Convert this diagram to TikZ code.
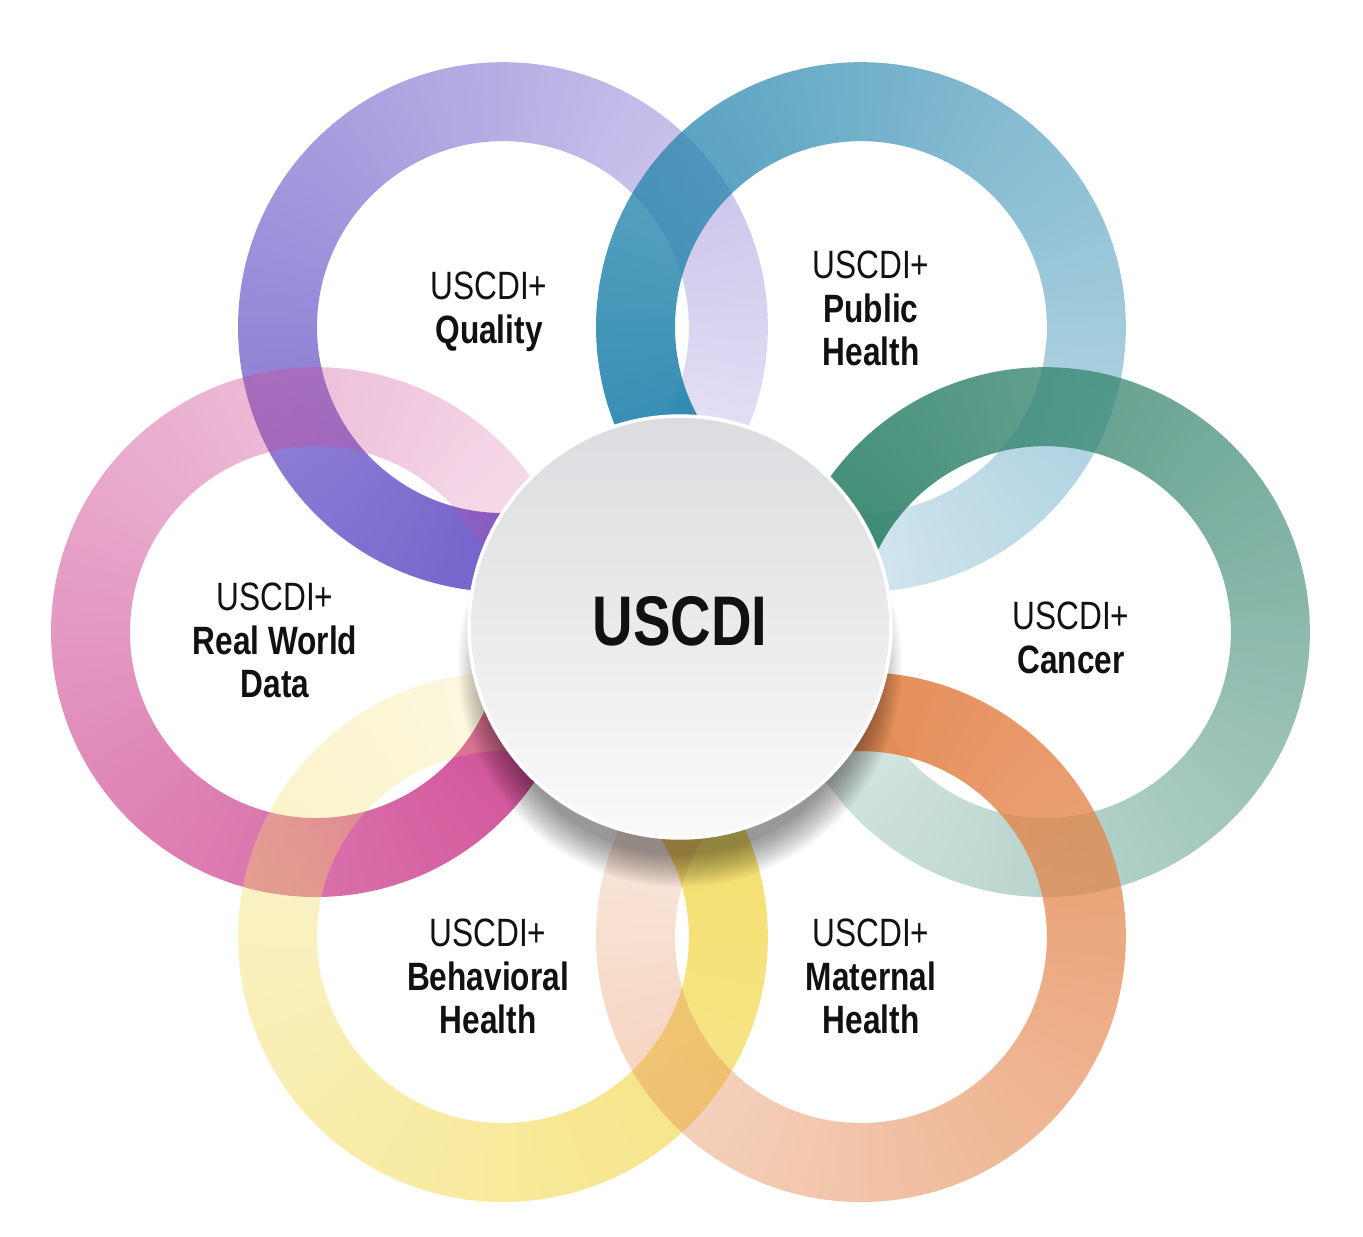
\documentclass[tikz,border=0pt]{standalone}
\usepackage{fontspec}
\setmainfont{Liberation Sans}[FakeStretch=0.8]
\usetikzlibrary{fadings}
% conic opacity fading: opaque just clockwise of the seam angle, nearly clear just before it
\newcommand{\ringfading}[4]{%
  \pgfdeclarefunctionalshading{#1shade}{\pgfpoint{-50bp}{-50bp}}{\pgfpoint{50bp}{50bp}}{}{
    exch 0.0001 add atan neg #2 add 360 div 1 add dup floor sub
    #4 #3 sub mul #3 add dup dup
  }%
  \pgfdeclarefading{#1}{\pgfuseshading{#1shade}}}
\ringfading{qualityfade}{300.5}{1}{0.10}
\ringfading{publicfade}{239}{1}{0.13}
\ringfading{cancerfade}{180}{1}{0.13}
\ringfading{maternalfade}{120}{1}{0.11}
\ringfading{behavioralfade}{60}{1}{0.11}
\ringfading{realworldfade}{0}{1}{0.12}
\definecolor{qualitycol}{HTML}{6A55C8}
\definecolor{publiccol}{HTML}{2585AD}
\definecolor{cancercol}{HTML}{35856F}
\definecolor{maternalcol}{HTML}{E4844A}
\definecolor{behavioralcol}{HTML}{F4DD62}
\definecolor{realworldcol}{HTML}{CF4893}
\definecolor{hubtop}{HTML}{DBDCDF}
\definecolor{hubbottom}{HTML}{FAFAFA}
\definecolor{labelink}{HTML}{111111}
\tikzset{
  ring/.style={even odd rule, fill=#1col, path fading=#1fade, fit fading=true},
  lbl/.style={anchor=north, align=center, inner sep=0pt, text=labelink,
              font=\fontsize{22.5}{24.7}\selectfont},
  hubtext/.style={anchor=north, inner sep=0pt, text=labelink,
              font=\fontsize{40}{44}\selectfont\bfseries},
  hubdisc/.style={circle, minimum size=8.44cm, inner sep=0pt,
              top color=hubtop, bottom color=hubbottom, draw=white, line width=0.07cm},
  shadowlayer/.style={fill=black, opacity=0.028}
}
\begin{document}
\begin{tikzpicture}[x=0.02cm,y=-0.02cm]
\fill[white] (0,0) rectangle (1363,1237);
\useasboundingbox (0,0) rectangle (1363,1237);
\coordinate (cq) at (503,327);
\coordinate (cp) at (861,327);
\coordinate (cc) at (1045,632);
\coordinate (cm) at (861,937);
\coordinate (cb) at (503,937);
\coordinate (cr) at (316,632);
\coordinate (hubc) at (680,627);
\coordinate (shadowc) at (680,665);
% rings, bottom to top
\path[ring=quality] (cq) circle[radius=5.3cm] (cq) circle[radius=3.72cm];
\path[ring=public] (cp) circle[radius=5.3cm] (cp) circle[radius=3.72cm];
\path[ring=cancer] (cc) circle[radius=5.3cm] (cc) circle[radius=3.72cm];
\path[ring=realworld] (cr) circle[radius=5.3cm] (cr) circle[radius=3.72cm];
\path[ring=behavioral] (cb) circle[radius=5.3cm] (cb) circle[radius=3.72cm];
\path[ring=maternal] (cm) circle[radius=5.3cm] (cm) circle[radius=3.72cm];
% soft shadow of the hub
\foreach \k in {0,...,16}
  \fill[shadowlayer] (shadowc) circle[radius=3.8cm+\k*0.04cm];
% hub
\node[hubdisc] (hub) at (hubc) {};
\node[hubtext] (hublabel) at (680,596) {USCDI};
% labels
\node[lbl] (quality) at (489,272) {USCDI+\\\textbf{Quality}};
\node[lbl] (public) at (871,251) {USCDI+\\\textbf{Public}\\\textbf{Health}};
\node[lbl] (realworld) at (275,583) {USCDI+\\\textbf{Real World}\\\textbf{Data}};
\node[lbl] (cancer) at (1071,602) {USCDI+\\\textbf{Cancer}};
\node[lbl] (behavioral) at (488,919) {USCDI+\\\textbf{Behavioral}\\\textbf{Health}};
\node[lbl] (maternal) at (871,919) {USCDI+\\\textbf{Maternal}\\\textbf{Health}};
\end{tikzpicture}
\end{document}
